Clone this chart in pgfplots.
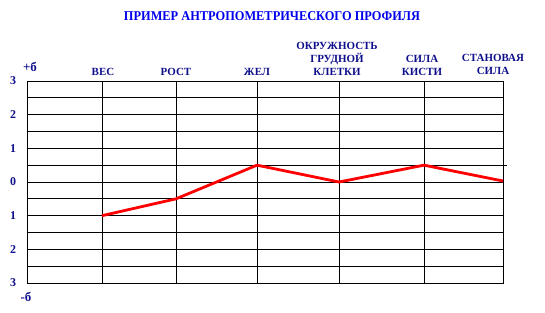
\documentclass[border=0pt]{standalone}
\usepackage{pgfplots}
\pgfplotsset{compat=1.18}
\usetikzlibrary{calc}
\usepackage{fontspec}
\setmainfont{Liberation Serif}
\definecolor{titleblue}{RGB}{0,0,235}
\definecolor{labelnavy}{RGB}{15,15,140}
\definecolor{profilered}{RGB}{255,0,0}

\begin{document}
\begin{tikzpicture}[x=1bp,y=1bp]
  \begin{axis}[
      name=ax,
      at={(0,0)}, anchor=south west,
      scale only axis, width=476bp, height=202bp,
      xmin=0, xmax=476, ymin=-3, ymax=3,
      xtick={75,149,230,312,397,476},
      xticklabel=\empty,
      xticklabel style={overlay},
      ytick={-3,-2,-1,0,1,2,3},
      yticklabels={3,2,1,0,1,2,3},
      minor ytick={-2.5,-1.5,-0.5,0.5,1.5,2.5},
      major tick length=0pt, minor tick length=0pt,
      xmajorgrids, ymajorgrids, yminorgrids,
      grid style={black, line width=1pt},
      minor grid style={black, line width=1pt},
      axis line style={black, line width=1pt},
      yticklabel style={font=\fontsize{12}{14}\selectfont\bfseries, text=labelnavy,
                        anchor=center, xshift=-14bp},
      clip=false,
    ]
    % profile values (sigma units)
    \addplot[profilered, line width=2.8bp, line join=round] coordinates {
      (75,-1) (149,-0.5) (230,0.5) (312,0) (397,0.5) (476,0.03)
    };
    \draw[black, line width=1pt] (axis cs:476,0.5) -- (axis cs:480,0.5);

    % category labels above the grid
    \begin{scope}[every node/.style={font=\fontsize{11}{13}\selectfont\bfseries,
                  text=labelnavy, align=center, anchor=south, inner sep=0pt}]
      \node at (axis cs:76,3) [yshift=5bp] {ВЕС};
      \node at (axis cs:149,3) [yshift=5bp] {РОСТ};
      \node at (axis cs:230,3) [yshift=5bp] {ЖЕЛ};
      \node at (axis cs:310,3) [yshift=5bp] {ОКРУЖНОСТЬ\\ГРУДНОЙ\\КЛЕТКИ};
      \node at (axis cs:395,3) [yshift=5bp] {СИЛА\\КИСТИ};
      \node at (axis cs:466,3) [yshift=6bp] {СТАНОВАЯ\\СИЛА};
    \end{scope}
    \begin{scope}[every node/.style={font=\fontsize{13}{15}\selectfont\bfseries,
                  text=labelnavy, inner sep=0pt}]
      \node at (axis cs:2,3) [xshift=1bp, yshift=14bp] {+б};
      \node at (axis cs:0,-3) [xshift=-1bp, yshift=-14bp] {-б};
    \end{scope}
  \end{axis}
  % title, placed from the lower left corner of the grid
  \node[font=\fontsize{13.5}{15}\selectfont\bfseries, text=titleblue, inner sep=0pt]
    at ($(ax.south west)+(245,267)$) {\scalebox{0.92}[1]{ПРИМЕР АНТРОПОМЕТРИЧЕСКОГО ПРОФИЛЯ}};
  % page frame: 545 x 312 around the grid
  \pgfresetboundingbox
  \path[use as bounding box] ($(ax.south west)+(-27,-29)$) rectangle ($(ax.south west)+(518,283)$);
\end{tikzpicture}
\end{document}
